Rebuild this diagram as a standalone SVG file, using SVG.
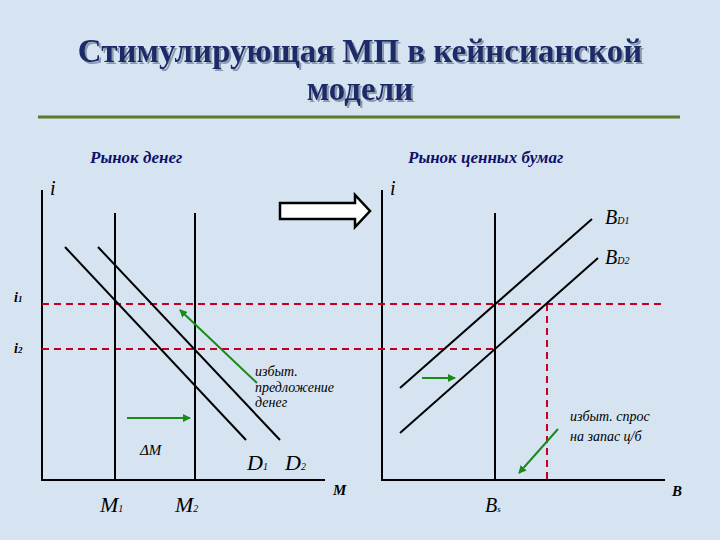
<svg xmlns="http://www.w3.org/2000/svg" width="720" height="540" viewBox="0 0 720 540">
<style>
.ln{stroke:#000;stroke-width:2;fill:none}
.rd{stroke:#c00020;stroke-width:2;stroke-dasharray:7,5;fill:none}
.gr{stroke:#1a8a1a;stroke-width:2;fill:none;marker-end:url(#ga)}
.t{font-family:'Liberation Serif','Times New Roman','DejaVu Serif',serif;font-style:italic;fill:#000}
.h{font-family:'Liberation Serif','Times New Roman','DejaVu Serif',serif;font-style:italic;font-weight:bold;fill:#10106a;font-size:17px}
.ttl{font-family:'Liberation Serif','Times New Roman','DejaVu Serif',serif;font-weight:bold;font-size:33px;fill:#1b2c6a;text-anchor:middle}
</style>
<defs>
<marker id="ga" markerWidth="8" markerHeight="8" refX="7" refY="4" orient="auto" markerUnits="userSpaceOnUse"><path d="M0,0L8,4L0,8z" fill="#1a8a1a"/></marker>
<filter id="sh" x="-5%" y="-20%" width="110%" height="150%"><feDropShadow dx="2" dy="2" stdDeviation="0.5" flood-color="#8c98ac"/></filter>
</defs>
<rect width="720" height="540" fill="#d6e4f1"/>
<g id="title" filter="url(#sh)">
<text class="ttl" x="360" y="62">Стимулирующая МП в кейнсианской</text>
<text class="ttl" x="360" y="100">модели</text>
</g>
<line x1="38" y1="117" x2="680" y2="117" stroke="#5a7a2a" stroke-width="3"/>
<g id="labels">
<text class="h" x="90" y="163">Рынок денег</text>
<text class="h" x="408" y="163">Рынок ценных бумаг</text>
<text class="t" x="50" y="195" font-size="20">i</text>
<text class="t" x="390" y="195" font-size="20">i</text>
<text class="t" x="14" y="302" font-size="14" font-weight="bold">i<tspan font-size="9">1</tspan></text>
<text class="t" x="14" y="353" font-size="14" font-weight="bold">i<tspan font-size="9">2</tspan></text>
<text class="t" x="255" y="376" font-size="14">избыт.</text>
<text class="t" x="255" y="392" font-size="14">предложение</text>
<text class="t" x="255" y="407" font-size="14">денег</text>
<text class="t" x="140" y="455" font-size="15">ΔM</text>
<text class="t" x="247" y="470" font-size="22">D<tspan font-size="10">1</tspan></text>
<text class="t" x="285" y="470" font-size="22">D<tspan font-size="10">2</tspan></text>
<text class="t" x="333" y="495" font-size="15" font-weight="bold">M</text>
<text class="t" x="100" y="512" font-size="22">M<tspan font-size="10">1</tspan></text>
<text class="t" x="175" y="512" font-size="22">M<tspan font-size="10">2</tspan></text>
<text class="t" x="605" y="224" font-size="20">B<tspan font-size="10">D1</tspan></text>
<text class="t" x="605" y="264" font-size="20">B<tspan font-size="10">D2</tspan></text>
<text class="t" x="570" y="421" font-size="14">избыт. спрос</text>
<text class="t" x="570" y="441" font-size="14">на запас ц/б</text>
<text class="t" x="672" y="496" font-size="15" font-weight="bold">B</text>
<text class="t" x="485" y="512" font-size="20">B<tspan font-size="9">s</tspan></text>
</g>
<g id="axes">
<polyline class="ln" points="42,190 42,480 325,480"/>
<polyline class="ln" points="382,190 382,480 665,480"/>
</g>
<g id="connectors">
<line class="rd" x1="42" y1="304" x2="666" y2="304"/>
<line class="rd" x1="42" y1="349" x2="495" y2="349"/>
<line class="rd" x1="547" y1="304" x2="547" y2="480"/>
<line class="ln" x1="115" y1="213" x2="115" y2="480"/>
<line class="ln" x1="195" y1="213" x2="195" y2="480"/>
<line class="ln" x1="65" y1="247" x2="246" y2="440"/>
<line class="ln" x1="98" y1="247" x2="280" y2="440"/>
<line class="ln" x1="495" y1="213" x2="495" y2="480"/>
<line class="ln" x1="400" y1="388" x2="592" y2="219"/>
<line class="ln" x1="400" y1="433" x2="598" y2="258"/>
<line class="gr" x1="257" y1="383" x2="180" y2="310"/>
<line class="gr" x1="127" y1="418" x2="190" y2="418"/>
<line class="gr" x1="422" y1="378" x2="455" y2="378"/>
<line class="gr" x1="558" y1="429" x2="519" y2="473"/>
<path d="M280,203H355V195L370,211L355,227V219H280Z" fill="#fff" stroke="#000" stroke-width="2.5"/>
</g>
</svg>
